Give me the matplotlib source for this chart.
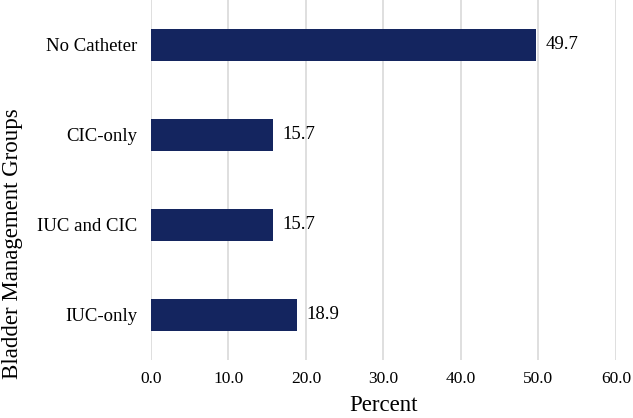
import matplotlib
matplotlib.use("Agg")
import matplotlib.pyplot as plt

groups = ["No Catheter", "CIC-only", "IUC and CIC", "IUC-only"]
percent = [49.7, 15.7, 15.7, 18.9]
xticks = [0, 10, 20, 30, 40, 50, 60]

plt.rcParams['font.family'] = ['Liberation Serif', 'DejaVu Serif']

fig = plt.figure(figsize=(6.33, 4.18), dpi=100)
ax = fig.add_axes([0.2385, 0.139, 0.7345, 0.861])

ypos = list(range(len(groups)))
ax.barh(ypos, percent, height=0.355, color="#14255f", zorder=3)
for y, v in zip(ypos, percent):
    ax.text(v + 1.2, y, f"{v:.1f}", va="center", ha="left", fontsize=13.5)

ax.set_ylim(len(groups) - 0.5, -0.5)
ax.set_yticks(ypos)
ax.set_yticklabels(groups, fontsize=13.5)
ax.set_xlim(0, 60)
ax.set_xticks(xticks)
ax.set_xticklabels([f"{t:.1f}" for t in xticks], fontsize=12.5)
ax.tick_params(length=0, pad=10)
ax.tick_params(axis="x", pad=8)
ax.grid(axis="x", color="#d9d9d9", linewidth=1.2, zorder=0)
for s in ax.spines.values():
    s.set_visible(False)

ax.set_xlabel("Percent", fontsize=16.5, labelpad=6)
fig.text(0.02, 0.416, "Bladder Management Groups", fontsize=16.5,
         rotation=90, ha="center", va="center")

fig.savefig("out.png", dpi=100)
